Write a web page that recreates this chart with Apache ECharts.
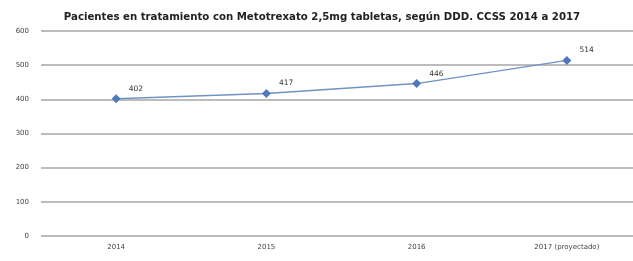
<!DOCTYPE html>
<html>
<head>
<meta charset="utf-8">
<script src="https://cdn.jsdelivr.net/npm/echarts@6/dist/echarts.min.js"></script>
<style>
  html, body { margin: 0; padding: 0; background: #fff; }
  #main { width: 633px; height: 261px; }
</style>
</head>
<body>
<div id="main"></div>
<script>
var categories = ['2014', '2015', '2016', '2017 (proyectado)'];
var pacientes = [402, 417, 446, 514];
var yTicks = [0, 100, 200, 300, 400, 500, 600];

var chart = echarts.init(document.getElementById('main'));

var option = {
  animation: false,
  title: {
    text: 'Pacientes en tratamiento con Metotrexato 2,5mg tabletas, según DDD. CCSS 2014 a 2017',
    left: 317,
    textAlign: 'center',
    top: 7,
    textStyle: {
      fontFamily: 'DejaVu Sans',
      fontSize: 10.2,
      fontWeight: 'bold',
      color: '#222'
    }
  },
  grid: {
    left: 41,
    top: 31,
    right: -9,
    height: 205,
    outerBoundsMode: 'none'
  },
  xAxis: {
    type: 'category',
    data: categories,
    boundaryGap: true,
    axisLine: { show: false },
    axisTick: { show: false },
    axisLabel: {
      margin: 8,
      fontSize: 7,
      fontFamily: 'DejaVu Sans',
      color: '#444'
    }
  },
  yAxis: {
    type: 'value',
    min: yTicks[0],
    max: yTicks[yTicks.length - 1],
    interval: 100,
    axisLine: { show: false },
    axisTick: { show: false },
    axisLabel: {
      margin: 12,
      fontSize: 7,
      fontFamily: 'DejaVu Sans',
      color: '#444'
    },
    splitLine: { lineStyle: { color: '#a6a6a6', width: 1.5 } }
  },
  series: [{
    type: 'line',
    data: pacientes,
    symbol: 'diamond',
    symbolSize: 9,
    lineStyle: { color: '#6f93c4', width: 1.5 },
    itemStyle: { color: '#4f79b8' },
    label: {
      show: true,
      position: 'right',
      offset: [3, -10],
      fontSize: 7.5,
      fontFamily: 'DejaVu Sans',
      color: '#333'
    }
  }]
};

chart.setOption(option);
</script>
</body>
</html>
